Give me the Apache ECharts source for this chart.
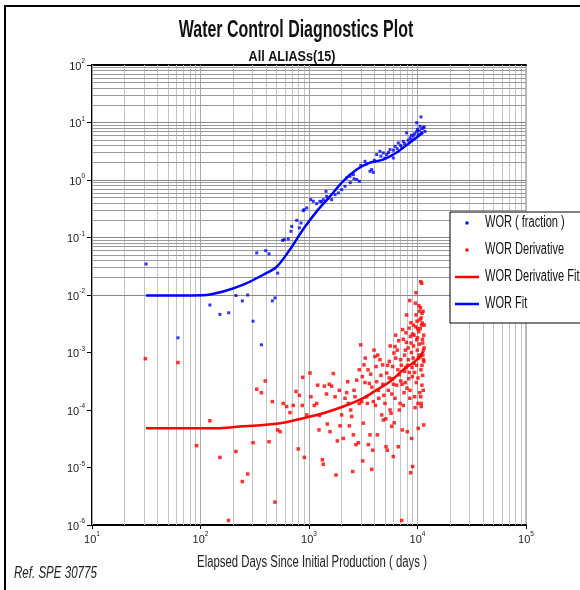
<!DOCTYPE html>
<html><head><meta charset="utf-8">
<script src="https://cdn.jsdelivr.net/npm/echarts@6/dist/echarts.min.js"></script>
<style>html,body{margin:0;padding:0;background:#fff}#c{width:580px;height:590px}</style>
</head><body><div id="c"></div>
<script>
const titleText = 'Water Control Diagnostics Plot';
const subtitleText = 'All ALIASs(15)';
const xAxisName = 'Elapsed Days Since Initial Production ( days )';
const refText = 'Ref. SPE 30775';
const seriesNames = ['WOR ( fraction )', 'WOR Derivative', 'WOR Derivative Fit', 'WOR Fit'];
const seriesColors = ['#0000ff', '#ff0000', '#ff0000', '#0000ff'];
const xRange = [10, 100000];
const yRange = [1e-6, 100];

// WOR (fraction) scatter: [days, WOR]
const worPoints = [
[31.5,0.0346],[62,0.0018],[122,0.0067],[151,0.0046],[182,0.0049],[212,0.0098],[243,0.0079],[272,0.010],
[305,0.0035],[330,0.054],[364,0.00136],[399,0.059],[428,0.052],[459,0.0079],[486,0.0089],[514,0.024],
[571,0.089],[592,0.092],[644,0.094],[682,0.128],[693,0.156],[771,0.199],[815,0.147],[843,0.179],
[885,0.293],[900,0.305],[953,0.327],[1038,0.455],[1096,0.426],[1178,0.388],[1262,0.426],[1300,0.42],
[1355,0.455],[1435,0.635],[1455,0.52],[1500,0.48],[1618,0.455],[1738,0.556],[1862,0.596],[2000,0.68],
[2148,0.776],[2223,1.09],[2388,1.16],[2400,0.9],[2564,1.24],[2600,1.05],[2754,1.02],[2911,0.95],
[3000,1.8],[3281,2.11],[3400,1.9],[3648,1.42],[3784,1.52],[3917,1.36],[4000,2.2],[4207,2.77],
[4508,3.16],[4600,2.6],[4842,2.96],[5000,2.4],[5200,2.77],[5400,3.0],[5585,3.38],[5984,2.42],
[6000,3.3],[6209,3.85],[6500,3.5],[6653,4.4],[7000,4.0],[7145,3.6],[7396,4.7],[7600,4.3],
[7943,6.6],[8200,4.9],[8531,5.4],[8800,6.0],[8831,5.0],[9141,5.8],[9400,6.4],[9840,7.0],
[9840,9.9],[10000,7.6],[10162,6.2],[10400,7.2],[10544,8.6],[10765,12.5],[10940,6.6],[11000,7.8],
[11324,8.1],[11500,8.4],[11720,7.0]
];

// WOR derivative scatter: [days, dWOR]
const worDerivPoints = [
[31,7.8e-4],[62,6.7e-4],[122,6.5e-5],[92,2.4e-5],[151,1.5e-5],[181,1.2e-6],[212,1.9e-5],[243,5.7e-6],
[272,7.7e-6],[305,2.7e-5],[330,2.3e-4],[364,2.0e-4],[395,3.2e-4],[428,2.8e-5],[459,1.4e-4],[486,2.5e-6],
[514,4.5e-5],[541,4.2e-5],[579,1.3e-4],[622,1.15e-4],[668,9.0e-5],[716,1.2e-4],[759,2.1e-4],[796,2.1e-5],
[815,1.8e-4],[867,1.2e-4],[875,3.7e-4],[906,1.5e-5],[953,8.2e-5],[1021,4.4e-4],[1042,1.7e-4],[1119,1.2e-4],
[1178,1.3e-4],[1202,2.7e-4],[1236,4.5e-5],[1250,8.0e-5],[1327,1.36e-5],[1355,1.14e-5],[1384,2.6e-4],[1450,1.9e-4],
[1476,5.7e-5],[1538,2.8e-4],[1563,4.2e-5],[1618,2.6e-4],[1675,4.3e-4],[1738,1.7e-4],[1774,7.4e-6],[1824,2.9e-5],
[1900,2.2e-4],[1932,5.3e-5],[2000,8.2e-5],[2070,3.2e-5],[2148,1.6e-4],[2223,2.0e-4],[2275,3.1e-4],[2300,1.3e-4],
[2355,5.3e-5],[2421,1.0e-4],[2477,7.7e-5],[2529,8.5e-6],[2564,3.7e-5],[2600,2.2e-4],[2655,1.7e-4],[2710,2.5e-5],
[2754,3.3e-4],[2851,2.7e-5],[2900,1.3e-4],[2911,5.0e-4],[2999,1.36e-3],[3062,1.4e-4],[3100,3.8e-4],[3126,1.3e-5],
[3170,5.9e-5],[3214,6.1e-4],[3281,3.0e-4],[3300,8.0e-4],[3404,1.7e-4],[3451,1.3e-4],[3500,5.0e-4],[3524,2.5e-5],
[3597,2.9e-4],[3648,3.7e-5],[3700,4.2e-4],[3784,9.3e-6],[3800,2.5e-4],[3864,2.0e-5],[3917,1.4e-4],[3972,1.1e-3],
[4055,8.5e-4],[4100,1.2e-4],[4150,5.7e-4],[4207,3.1e-4],[4266,3.7e-5],[4300,9.0e-4],[4355,2.2e-4],[4400,1.6e-4],
[4508,7.5e-4],[4600,4.0e-4],[4677,8.2e-5],[4775,6.1e-4],[4800,2.8e-4],[4842,6.7e-5],[4900,1.8e-4],[5012,1.3e-4],
[5100,7.0e-5],[5129,2.3e-5],[5200,4.4e-4],[5272,2.0e-5],[5300,6.0e-4],[5383,2.2e-4],[5495,3.6e-4],[5500,7.0e-4],
[5585,1.0e-4],[5600,1.3e-3],[5702,8.8e-5],[5781,5.2e-5],[5800,1.9e-4],[5900,3.5e-4],[5902,5.7e-4],[5984,1.55e-5],
[6000,2.8e-4],[6067,9.8e-4],[6100,6.0e-5],[6200,1.6e-4],[6209,1.27e-3],[6295,2.0e-3],[6300,8.0e-4],[6427,2.7e-4],
[6516,1.1e-3],[6600,5.0e-4],[6653,2.3e-5],[6700,1.6e-3],[6792,4.1e-4],[6800,1.0e-4],[6902,1.3e-4],[6998,7.5e-4],
[7000,3.2e-4],[7100,6.0e-4],[7145,1.2e-6],[7200,2.8e-4],[7244,4.5e-5],[7300,2.5e-3],[7396,1.2e-4],[7400,1.7e-3],
[7516,2.0e-4],[7600,9.0e-4],[7621,4.7e-4],[7700,3.0e-4],[7727,1.1e-3],[7800,5.5e-4],[7834,2.2e-3],[7900,1.5e-3],
[7943,4.5e-3],[8000,2.4e-4],[8054,4.2e-5],[8100,6.0e-4],[8200,1.2e-3],[8222,7.5e-4],[8300,3.5e-4],[8356,2.65e-3],
[8400,4.5e-4],[8472,8.0e-3],[8500,1.6e-4],[8531,2.2e-4],[8600,1.9e-3],[8650,8.1e-6],[8700,3.3e-3],[8710,1.46e-3],
[8800,1.0e-3],[8831,3.2e-5],[8900,5.5e-4],[8954,3.8e-4],[9000,2.1e-3],[9016,1.04e-5],[9100,8.0e-4],[9141,3.0e-3],
[9200,1.3e-3],[9290,6.5e-4],[9300,2.0e-3],[9400,4.5e-4],[9419,1.7e-4],[9500,1.1e-4],[9550,7.2e-3],[9600,2.8e-3],
[9683,1.1e-2],[9700,4.5e-3],[9750,3.0e-4],[9800,6.0e-4],[9840,1.66e-3],[9900,3.5e-3],[9954,1.1e-3],[10000,1.8e-3],
[10050,2.6e-3],[10100,1.3e-4],[10116,3.6e-4],[10162,4.8e-5],[10200,8.0e-4],[10257,2.3e-3],[10300,6.5e-3],[10350,9.0e-4],
[10399,5.2e-3],[10400,1.4e-3],[10500,2.0e-4],[10544,3.7e-3],[10600,2.6e-3],[10617,8.5e-4],[10650,6.0e-3],[10715,1.7e-2],
[10715,1.7e-4],[10765,5.0e-4],[10800,4.0e-3],[10800,1.3e-4],[10839,1.15e-4],[10900,3.0e-3],[10940,1.6e-2],[10990,2.7e-4],
[11000,6.0e-4],[11000,4.8e-3],[11066,3.25e-3],[11100,1.7e-3],[11150,4.0e-4],[11169,1.46e-3],[11200,9.0e-4],[11246,5.2e-3],
[11300,2.2e-4],[11324,7.5e-4],[11324,1.1e-3],[11400,2.0e-3],[11402,5.5e-5],[11450,7.0e-4],[11500,1.2e-3],[11550,3.0e-3]
];

// Fit curves
const worFit = [
[31.5,0.0098],[60,0.0098],[105,0.0099],[162,0.0115],[248,0.0151],[379,0.0225],[504,0.031],[668,0.062],
[881,0.138],[1178,0.285],[1563,0.52],[2056,0.95],[2754,1.52],[3648,2.0],[4809,2.26],[6427,3.0],[8531,4.5],[11246,6.7]
];
const worDerivFit = [
[31.5,4.8e-5],[141,4.8e-5],[231,5.15e-5],[379,5.5e-5],[580,6.0e-5],[885,7.2e-5],[1355,8.8e-5],[2070,1.15e-4],
[3162,1.61e-4],[4207,2.24e-4],[5585,3.13e-4],[7396,5.0e-4],[9840,7.46e-4],[11300,1.04e-3]
];

const FONT = '"Liberation Sans",Arial,sans-serif';
const gridMultipliers = [1,2,3,4,5,6,7,8,9];
const xDecades = [1,2,3,4];
const yDecades = [-6,-5,-4,-3,-2,-1,0,1];

const gridLines = [];
xDecades.forEach(d => gridMultipliers.forEach(m => {
  gridLines.push({xAxis: m * Math.pow(10, d), lineStyle: {color: m === 1 ? '#a8a8a8' : '#c4c4c4', width: 1, type: 'solid'}});
}));
yDecades.forEach(d => gridMultipliers.forEach(m => {
  gridLines.push({yAxis: m * Math.pow(10, d), lineStyle: {color: m === 1 ? '#888' : '#9a9a9a', width: 1, type: 'solid'}});
}));

function expLabel(v) {
  const e = Math.round(Math.log10(v));
  return '{b|10}{s|' + e + '}';
}
const richLabel = {
  b: {fontFamily: FONT, fontSize: 11, color: '#222', verticalAlign: 'bottom', lineHeight: 14},
  s: {fontFamily: FONT, fontSize: 6.5, color: '#222', verticalAlign: 'top', lineHeight: 7}
};

// legend layout (graphic, to allow condensed text)
const legendBox = {x: 450, y: 212, w: 140, h: 111};
const legendRowY = [223, 250, 277, 304];
const legendGraphics = [
  {type: 'rect', shape: {x: legendBox.x, y: legendBox.y, width: legendBox.w, height: legendBox.h},
   style: {fill: '#fff', stroke: '#000', lineWidth: 1}, z: 100}
];
seriesNames.forEach((n, i) => {
  const cy = legendRowY[i];
  if (i < 2) {
    legendGraphics.push({type: 'rect', shape: {x: 465.5, y: cy - 1.5, width: 3, height: 3}, style: {fill: seriesColors[i]}, z: 101});
  } else {
    legendGraphics.push({type: 'line', shape: {x1: 455, y1: cy, x2: 479, y2: cy}, style: {stroke: seriesColors[i], lineWidth: 2.5}, z: 101});
  }
  legendGraphics.push({type: 'text', x: 485, y: cy, scaleX: 0.69,
    style: {text: n, font: '16px ' + FONT, fill: '#111', align: 'left', verticalAlign: 'middle'}, z: 101});
});

const chart = echarts.init(document.getElementById('c'), null, {renderer: 'canvas'});
chart.setOption({
  animation: false,
  backgroundColor: '#fff',
  grid: {left: 92, right: 54, top: 65, bottom: 65, show: true, borderColor: '#777', borderWidth: 1, backgroundColor: '#fff'},
  xAxis: [{
    type: 'log', logBase: 10, min: xRange[0], max: xRange[1], interval: 1,
    axisLine: {lineStyle: {color: '#000', width: 2}},
    axisTick: {show: true, length: 4, lineStyle: {color: '#000'}},
    axisLabel: {formatter: expLabel, rich: richLabel, margin: 6},
    splitLine: {show: false}
  }, {
    type: 'log', logBase: 10, min: xRange[0], max: xRange[1], position: 'top',
    axisLine: {lineStyle: {color: '#000', width: 2}},
    axisTick: {show: false}, axisLabel: {show: false}, splitLine: {show: false}
  }],
  yAxis: {
    type: 'log', logBase: 10, min: yRange[0], max: yRange[1], interval: 1,
    axisLine: {lineStyle: {color: '#000', width: 2}},
    axisTick: {show: true, length: 5, lineStyle: {color: '#000'}},
    axisLabel: {formatter: expLabel, rich: richLabel, margin: 7},
    splitLine: {show: false}
  },
  series: [
    {
      name: seriesNames[0], type: 'scatter', data: worPoints,
      symbol: 'rect', symbolSize: 3, itemStyle: {color: seriesColors[0]}, z: 3,
      markLine: {silent: true, symbol: ['none', 'none'], z: 1, label: {show: false}, animation: false, data: gridLines}
    },
    {
      name: seriesNames[1], type: 'scatter', data: worDerivPoints,
      symbol: 'rect', symbolSize: 3.5, itemStyle: {color: seriesColors[1]}, z: 3
    },
    {
      name: seriesNames[2], type: 'line', data: worDerivFit, showSymbol: false, smooth: 0.3,
      lineStyle: {color: seriesColors[2], width: 2.5}, itemStyle: {color: seriesColors[2]}, z: 4
    },
    {
      name: seriesNames[3], type: 'line', data: worFit, showSymbol: false, smooth: 0.3,
      lineStyle: {color: seriesColors[3], width: 2.5}, itemStyle: {color: seriesColors[3]}, z: 4
    }
  ],
  graphic: [
    {type: 'line', shape: {x1: 5, y1: 6, x2: 580, y2: 6}, style: {stroke: '#000', lineWidth: 2}, z: 100},
    {type: 'line', shape: {x1: 5, y1: 5, x2: 5, y2: 590}, style: {stroke: '#000', lineWidth: 2}, z: 100},
    {type: 'text', x: 296, y: 31, scaleX: 0.694, style: {text: titleText, font: 'bold 23px ' + FONT, fill: '#111', align: 'center', verticalAlign: 'middle'}, z: 100},
    {type: 'text', x: 292, y: 57, scaleX: 0.84, style: {text: subtitleText, font: 'bold 15px ' + FONT, fill: '#111', align: 'center', verticalAlign: 'middle'}, z: 100},
    {type: 'text', x: 312, y: 563, scaleX: 0.71, style: {text: xAxisName, font: '16px ' + FONT, fill: '#222', align: 'center', verticalAlign: 'middle'}, z: 100},
    {type: 'text', x: 14, y: 573, scaleX: 0.68, style: {text: refText, font: 'italic 17px ' + FONT, fill: '#222', align: 'left', verticalAlign: 'middle'}, z: 100}
  ].concat(legendGraphics)
});
</script>
</body></html>
